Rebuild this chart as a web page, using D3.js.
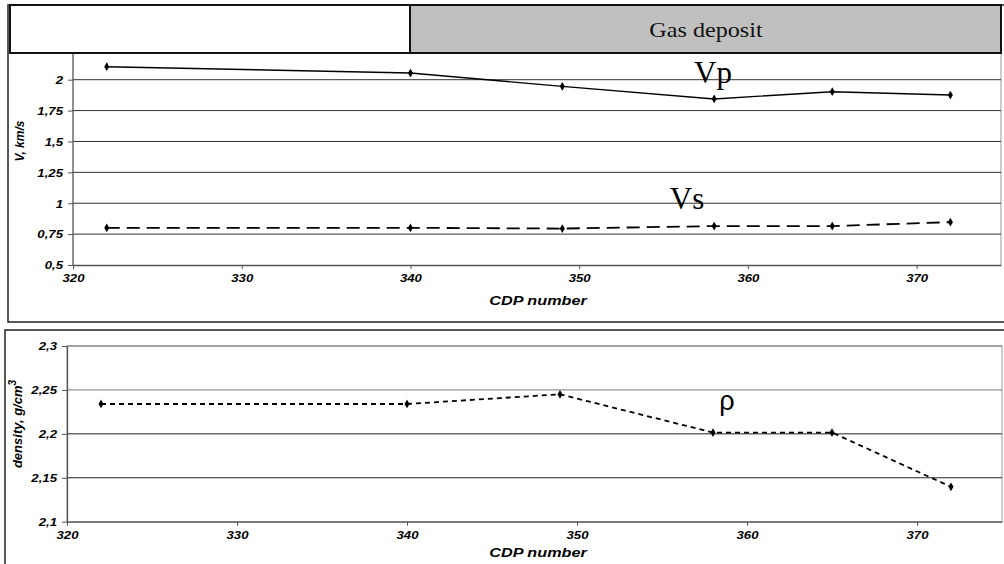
<!DOCTYPE html>
<html><head><meta charset="utf-8">
<script src="https://cdn.jsdelivr.net/npm/d3@7"></script>
<style>
html,body{margin:0;padding:0;background:#fff;}
svg{display:block;}
</style></head>
<body>
<svg id="c" width="1004" height="564"></svg>
<script>
// ---- data ----
const cdp = [322, 340, 349, 358, 365, 372];
const vp = [2.105, 2.054, 1.946, 1.844, 1.903, 1.876];
const vs = [0.801, 0.801, 0.795, 0.815, 0.815, 0.847];
const density = [2.234, 2.234, 2.245, 2.2015, 2.2015, 2.1397];
const xTicks = [320, 330, 340, 350, 360, 370];
const vTicks = [0.5, 0.75, 1, 1.25, 1.5, 1.75, 2];
const dTicks = [2.1, 2.15, 2.2, 2.25, 2.3];
const headerText = "Gas deposit";
const xTitle = "CDP number";

const svg = d3.select("#c");
const comma = v => String(v).replace(".", ",");
const lblFont = "'Liberation Sans', Arial, sans-serif";
const serif = "'Liberation Serif', 'Times New Roman', serif";
const SX = 1.2; // horizontal stretch of the original scan

function styleAxis(a, isY) {
  a.select(".domain").attr("stroke", "#555").attr("stroke-width", 1.3);
  a.selectAll(".tick line").attr("stroke", "#555");
  a.selectAll("text").attr("font-family", lblFont).attr("font-size", 11)
    .attr("font-weight", "bold").attr("font-style", "italic").attr("fill", "#000")
    .attr("transform", `scale(${SX},1)`);
  if (isY) a.selectAll(".tick text").attr("x", -10 / SX).attr("dy", "0.35em");
  else a.selectAll(".tick text").attr("y", 9);
}

function stretchedText(x, y, txt, size, opts) {
  const t = svg.append("text").attr("transform", `translate(${x},${y}) scale(${opts.sx || 1},1)`)
    .attr("text-anchor", "middle").attr("font-family", opts.family).attr("font-size", size)
    .attr("fill", "#000").text(txt);
  if (opts.bold) t.attr("font-weight", "bold");
  if (opts.italic) t.attr("font-style", "italic");
  return t;
}

// ---------- top panel ----------
const x1 = d3.scaleLinear().domain([320, 375]).range([73, 1001]);
const y1 = d3.scaleLinear().domain([0.5, 2]).range([265, 79.7]);

svg.append("rect").attr("x", 8).attr("y", 5).attr("width", 1010).attr("height", 317)
  .attr("fill", "none").attr("stroke", "#222").attr("stroke-width", 1.5);

svg.append("line").attr("x1", 1001).attr("x2", 1001).attr("y1", 53).attr("y2", 265)
  .attr("stroke", "#999").attr("stroke-width", 1);

svg.append("g").selectAll("line").data(vTicks.filter(d => d > 0.5)).join("line")
  .attr("x1", 73).attr("x2", 1001)
  .attr("y1", d => y1(d)).attr("y2", d => y1(d))
  .attr("stroke", "#333").attr("stroke-width", 1);

const yAx1 = svg.append("g").attr("transform", "translate(73,0)")
  .call(d3.axisLeft(y1).tickValues(vTicks).tickFormat(comma).tickSize(5).tickSizeOuter(0));
const xAx1 = svg.append("g").attr("transform", "translate(0,265)")
  .call(d3.axisBottom(x1).tickValues(xTicks).tickFormat(d => d).tickSize(4).tickSizeOuter(0));
styleAxis(yAx1, true);
styleAxis(xAx1, false);
yAx1.select(".domain").attr("d", "M0,53V265");

svg.append("text").attr("transform", "translate(24,141) rotate(-90)")
  .attr("text-anchor", "middle").attr("font-family", lblFont).attr("font-size", 12)
  .attr("font-weight", "bold").attr("font-style", "italic").text("V, km/s");
stretchedText(538, 305, xTitle, 13.5, {family: lblFont, bold: true, italic: true, sx: SX});

const lineV = (arr) => d3.line().x((d, i) => x1(cdp[i])).y(d => y1(d))(arr);
svg.append("path").attr("d", lineV(vp)).attr("fill", "none")
  .attr("stroke", "#000").attr("stroke-width", 1.4);
svg.append("path").attr("d", lineV(vs)).attr("fill", "none")
  .attr("stroke", "#000").attr("stroke-width", 1.8).attr("stroke-dasharray", "13,7");

const diamond = d3.symbol().type(d3.symbolDiamond).size(22);
[vp, vs].forEach(arr => {
  svg.append("g").selectAll("path").data(arr).join("path")
    .attr("d", diamond)
    .attr("transform", (d, i) => `translate(${x1(cdp[i])},${y1(d)})`)
    .attr("fill", "#000");
});

// header boxes
svg.append("rect").attr("x", 10).attr("y", 5).attr("width", 400).attr("height", 48)
  .attr("fill", "#fff").attr("stroke", "#111").attr("stroke-width", 2);
svg.append("rect").attr("x", 410).attr("y", 5).attr("width", 591).attr("height", 48)
  .attr("fill", "#c0c0c0").attr("stroke", "#111").attr("stroke-width", 2);
stretchedText(706, 37, headerText, 21, {family: serif, sx: 1.15}).attr("fill", "#111");

// series labels
stretchedText(713, 83, "Vp", 31, {family: serif});
stretchedText(687, 209, "Vs", 31, {family: serif});

// ---------- bottom panel ----------
const x2 = d3.scaleLinear().domain([320, 375]).range([67, 1002]);
const y2 = d3.scaleLinear().domain([2.1, 2.3]).range([521.7, 346]);

svg.append("rect").attr("x", 5).attr("y", 330).attr("width", 1010).attr("height", 250)
  .attr("fill", "none").attr("stroke", "#222").attr("stroke-width", 1.5);

svg.append("rect").attr("x", 67).attr("y", 346).attr("width", 935).attr("height", 175.7)
  .attr("fill", "none").attr("stroke", "#999").attr("stroke-width", 1);

svg.append("g").selectAll("line").data(dTicks.filter(d => d > 2.1)).join("line")
  .attr("x1", 67).attr("x2", 1002)
  .attr("y1", d => y2(d)).attr("y2", d => y2(d))
  .attr("stroke", d => d >= 2.25 ? "#777" : "#222").attr("stroke-width", 1);

const yAx2 = svg.append("g").attr("transform", "translate(67,0)")
  .call(d3.axisLeft(y2).tickValues(dTicks).tickFormat(comma).tickSize(5).tickSizeOuter(0));
const xAx2 = svg.append("g").attr("transform", "translate(0,521.7)")
  .call(d3.axisBottom(x2).tickValues(xTicks).tickFormat(d => d).tickSize(4).tickSizeOuter(0));
styleAxis(yAx2, true);
styleAxis(xAx2, false);

const dt = svg.append("text").attr("transform", "translate(22,424) rotate(-90)")
  .attr("text-anchor", "middle").attr("font-family", lblFont).attr("font-size", 13)
  .attr("font-weight", "bold").attr("font-style", "italic");
dt.append("tspan").text("density, g/cm");
dt.append("tspan").attr("dy", -6).attr("font-size", 10).text("3");

stretchedText(538, 557, xTitle, 13.5, {family: lblFont, bold: true, italic: true, sx: SX});

const lineD = d3.line().x((d, i) => x2(cdp[i])).y(d => y2(d));
svg.append("path").attr("d", lineD(density)).attr("fill", "none")
  .attr("stroke", "#000").attr("stroke-width", 1.8).attr("stroke-dasharray", "5,4");
svg.append("g").selectAll("path").data(density).join("path")
  .attr("d", diamond)
  .attr("transform", (d, i) => `translate(${x2(cdp[i])},${y2(d)})`)
  .attr("fill", "#000");

stretchedText(727, 410, "ρ", 27, {family: lblFont});
</script>
</body></html>
